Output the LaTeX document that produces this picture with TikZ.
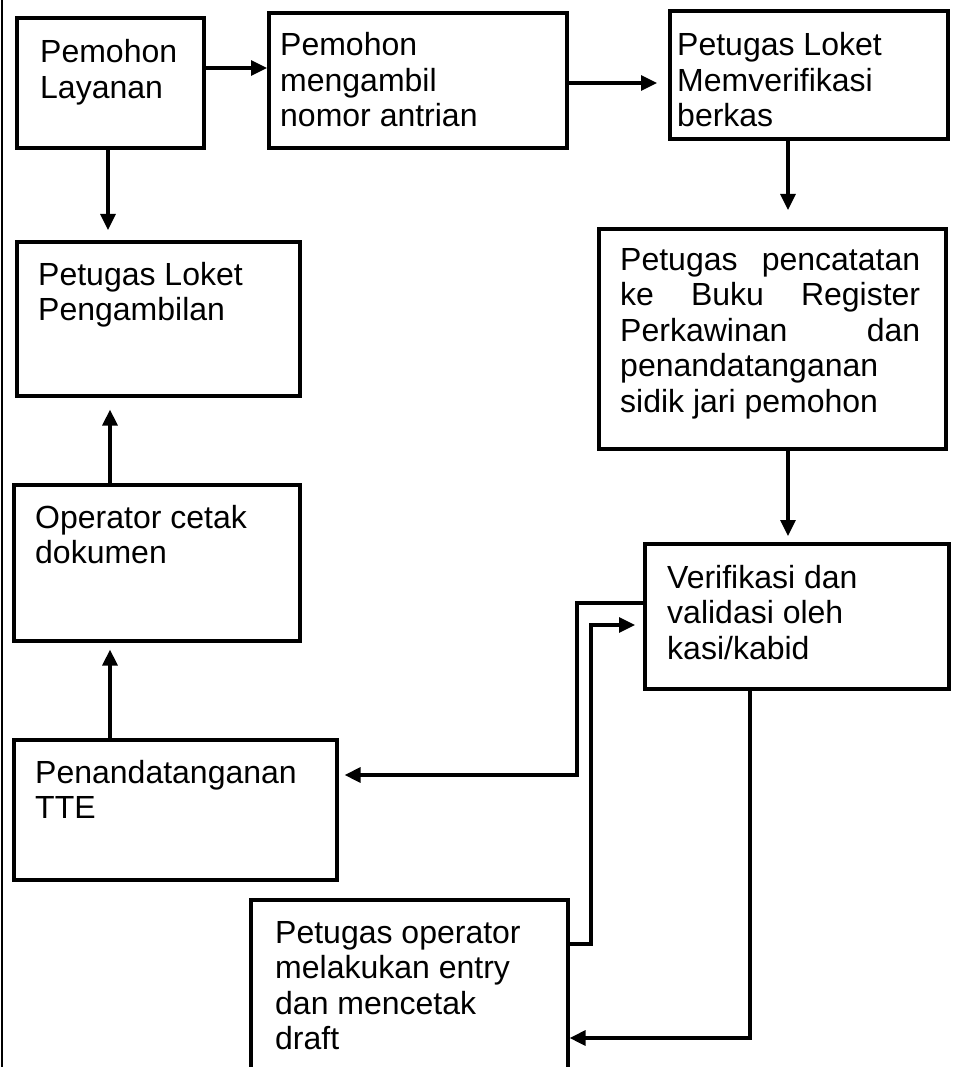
\documentclass[tikz,border=0pt]{standalone}
\usepackage{fontspec}
\setmainfont{Liberation Sans}
\usetikzlibrary{arrows.meta,calc}
\tikzset{
  box/.style={draw=black, line width=3.6pt, rectangle, inner sep=0pt, anchor=north west, fill=white},
  txt/.style={anchor=base west, inner sep=0pt, font=\fontsize{32}{35.5}\selectfont},
  arr/.style={draw=black, line width=3.2pt, -{Triangle[length=16pt,width=15pt]}},
  conn/.style={draw=black, line width=3.2pt}
}
\begin{document}
\begin{tikzpicture}[x=1pt,y=-1pt]
\fill[white] (0,0) rectangle (957,1067);
\useasboundingbox (0,0) rectangle (957,1067);
\draw[line width=1.4pt] (2,0) -- (2,1067);
% boxes
\node[box, minimum width=187pt, minimum height=130pt] (b1) at (15,16) {};
\node[box, minimum width=298pt, minimum height=135pt] (b2) at (267,11) {};
\node[box, minimum width=278pt, minimum height=128pt] (b3) at (668,9) {};
\node[box, minimum width=283pt, minimum height=154pt] (b4) at (15,240) {};
\node[box, minimum width=347pt, minimum height=220pt] (b5) at (597,227) {};
\node[box, minimum width=286pt, minimum height=156pt] (b6) at (12,483) {};
\node[box, minimum width=304pt, minimum height=145pt] (b7) at (643,542) {};
\node[box, minimum width=323pt, minimum height=140pt] (b8) at (12,738) {};
\node[box, minimum width=317pt, minimum height=170pt] (b9) at (249,898) {};
% texts
\node[txt] (t1) at (40,63) {\parbox[t]{400pt}{Pemohon\\Layanan}};
\node[txt] (t2) at (280,56) {\parbox[t]{400pt}{Pemohon\\mengambil\\nomor antrian}};
\node[txt] (t3) at (677,56) {\parbox[t]{400pt}{Petugas Loket\\Memverifikasi\\berkas}};
\node[txt] (t4) at (38,285) {\parbox[t]{400pt}{Petugas Loket\\Pengambilan}};
\node[txt] (t5) at (620,270) {\parbox[t]{300pt}{Petugas\hfill pencatatan\\ke\hfill Buku\hfill Register\\Perkawinan\hfill dan\\penandatanganan\\sidik jari pemohon}};
\node[txt] (t6) at (35,528) {\parbox[t]{400pt}{Operator cetak\\dokumen}};
\node[txt] (t7) at (667,588) {\parbox[t]{400pt}{Verifikasi dan\\validasi oleh\\kasi/kabid}};
\node[txt] (t8) at (35,783) {\parbox[t]{400pt}{Penandatanganan\\TTE}};
\node[txt] (t9) at (275,943) {\parbox[t]{400pt}{Petugas operator\\melakukan entry\\dan mencetak\\draft}};
% connectors
\coordinate (c1) at (577,603);
\coordinate (c2) at (577,775);
\coordinate (c3) at (591,944);
\coordinate (c4) at (591,625);
\coordinate (c5) at (750,1038);
\draw[arr] (b1.east |- 0,68) -- (b2.west |- 0,68);
\draw[arr, shorten >=11pt] (b2.east |- 0,83) -- (b3.west |- 0,83);
\draw[arr, shorten >=10pt] (b1.south -| 108,0) -- (b4.north -| 108,0);
\draw[arr, shorten >=17pt] (b3.south -| 788,0) -- (b5.north -| 788,0);
\draw[arr, shorten >=6pt] (b5.south -| 788,0) -- (b7.north -| 788,0);
\draw[arr, shorten >=12pt] (b6.north -| 110,0) -- (b4.south -| 110,0);
\draw[arr, shorten >=7pt] (b8.north -| 110,0) -- (b6.south -| 110,0);
\draw[arr, shorten >=6pt] (b7.west |- c1) -- (c1) -- (c2) -- (b8.east |- c2);
\draw[arr, shorten >=8pt] (b9.east |- c3) -- (c3) -- (c4) -- (b7.west |- c4);
\draw[arr] (b7.south -| c5) -- (c5) -- (b9.east |- c5);
\end{tikzpicture}
\end{document}
